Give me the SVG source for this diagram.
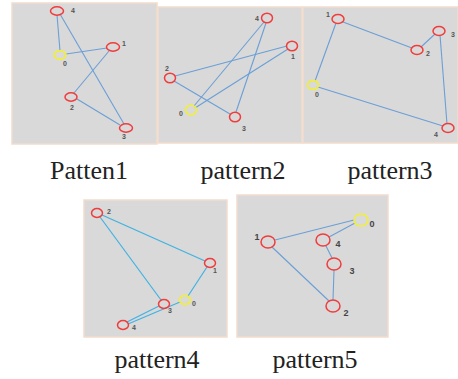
<svg xmlns="http://www.w3.org/2000/svg" width="458" height="379" viewBox="0 0 458 379">
  <style>
    .panel { fill: #d9d9d9; stroke: #f2dccd; stroke-width: 1.5; }
    .edge { stroke: #6b9fd6; stroke-width: 1.1; fill: none; }
    .edge4 { stroke: #3fb2e2; stroke-width: 1.2; fill: none; }
    .node { fill: none; stroke: #f03c3c; stroke-width: 1.5; }
    .start { fill: none; stroke: #f4f02a; stroke-width: 1.5; }
    .lbl { font-family: "Liberation Sans", Arial, sans-serif; font-size: 7px; font-weight: bold; fill: #555; text-anchor: middle; }
    .lbl5 { font-family: "Liberation Sans", Arial, sans-serif; font-size: 9px; font-weight: bold; fill: #444; text-anchor: middle; }
    .cap { font-family: "Liberation Serif", "Times New Roman", serif; font-size: 26px; fill: #222; text-anchor: middle; }
  </style>

  <!-- panel backgrounds -->
  <rect class="panel" x="12" y="3" width="145" height="141"/>
  <rect class="panel" x="158" y="7" width="144" height="136"/>
  <rect class="panel" x="303" y="7" width="155" height="136"/>
  <rect class="panel" x="84" y="200" width="143" height="137"/>
  <rect class="panel" x="237" y="195" width="151" height="142"/>

  <g id="connectors">
    <!-- pattern 1 -->
    <line class="edge" x1="57" y1="15" x2="60" y2="51"/>
    <line class="edge" x1="60" y1="14" x2="124" y2="124"/>
    <line class="edge" x1="66" y1="54" x2="107" y2="48"/>
    <line class="edge" x1="109" y1="51" x2="74" y2="93"/>
    <line class="edge" x1="77" y1="99" x2="120" y2="125"/>
    <!-- pattern 2 -->
    <line class="edge" x1="264" y1="22" x2="194" y2="106"/>
    <line class="edge" x1="266" y1="23" x2="236" y2="112"/>
    <line class="edge" x1="175" y1="76" x2="287" y2="46"/>
    <line class="edge" x1="174" y1="81" x2="230" y2="114"/>
    <line class="edge" x1="195" y1="108" x2="288" y2="49"/>
    <!-- pattern 3 -->
    <line class="edge" x1="336" y1="23" x2="315" y2="81"/>
    <line class="edge" x1="343" y1="22" x2="412" y2="48"/>
    <line class="edge" x1="421" y1="47" x2="435" y2="34"/>
    <line class="edge" x1="440" y1="35" x2="447" y2="124"/>
    <line class="edge" x1="318" y1="87" x2="443" y2="126"/>
    <!-- pattern 4 -->
    <line class="edge4" x1="102" y1="215" x2="205" y2="261"/>
    <line class="edge4" x1="100" y1="217" x2="161" y2="300"/>
    <line class="edge4" x1="207" y1="267" x2="188" y2="296"/>
    <line class="edge4" x1="180" y1="302" x2="128" y2="324"/>
    <line class="edge4" x1="159" y1="306" x2="127" y2="322"/>
    <!-- pattern 5 -->
    <line class="edge" x1="275" y1="240" x2="354" y2="220"/>
    <line class="edge" x1="355" y1="223" x2="329" y2="237"/>
    <line class="edge" x1="326" y1="246" x2="332" y2="258"/>
    <line class="edge" x1="334" y1="270" x2="333" y2="300"/>
    <line class="edge" x1="272" y1="247" x2="329" y2="301"/>
  </g>

  <!-- pattern 1 nodes -->
  <g id="p1-n4"><ellipse class="node" cx="57" cy="11" rx="6.5" ry="4.2"/><text class="lbl" x="73" y="13">4</text></g>
  <g id="p1-n0"><ellipse class="start" cx="60" cy="55" rx="6" ry="4.2"/><text class="lbl" x="65" y="66">0</text></g>
  <g id="p1-n1"><ellipse class="node" cx="113" cy="47" rx="6.5" ry="4.2"/><text class="lbl" x="124" y="46">1</text></g>
  <g id="p1-n2"><ellipse class="node" cx="71" cy="97" rx="6" ry="4.2"/><text class="lbl" x="72" y="110">2</text></g>
  <g id="p1-n3"><ellipse class="node" cx="126" cy="128" rx="6.5" ry="4.2"/><text class="lbl" x="124" y="139">3</text></g>

  <!-- pattern 2 nodes -->
  <g id="p2-n4"><ellipse class="node" cx="267" cy="18" rx="5.5" ry="4.8"/><text class="lbl" x="257" y="21">4</text></g>
  <g id="p2-n1"><ellipse class="node" cx="292" cy="46" rx="5.5" ry="4.8"/><text class="lbl" x="293" y="59">1</text></g>
  <g id="p2-n2"><ellipse class="node" cx="170" cy="78" rx="5.5" ry="4.8"/><text class="lbl" x="167" y="71">2</text></g>
  <g id="p2-n0"><ellipse class="start" cx="191" cy="110" rx="5.5" ry="4.8"/><text class="lbl" x="181" y="116">0</text></g>
  <g id="p2-n3"><ellipse class="node" cx="235" cy="117" rx="5.5" ry="4.8"/><text class="lbl" x="244" y="131">3</text></g>

  <!-- pattern 3 nodes -->
  <g id="p3-n1"><ellipse class="node" cx="338" cy="19" rx="6" ry="4.5"/><text class="lbl" x="328" y="17">1</text></g>
  <g id="p3-n2"><ellipse class="node" cx="417" cy="50" rx="6" ry="4.5"/><text class="lbl" x="428" y="56">2</text></g>
  <g id="p3-n3"><ellipse class="node" cx="439" cy="31" rx="6" ry="4.5"/><text class="lbl" x="453" y="37">3</text></g>
  <g id="p3-n0"><ellipse class="start" cx="313" cy="85" rx="5.5" ry="4.5"/><text class="lbl" x="317" y="97">0</text></g>
  <g id="p3-n4"><ellipse class="node" cx="448" cy="128" rx="6" ry="4.5"/><text class="lbl" x="436" y="137">4</text></g>

  <!-- pattern 4 nodes -->
  <g id="p4-n2"><ellipse class="node" cx="97" cy="213" rx="5.5" ry="4.5"/><text class="lbl" x="109" y="214">2</text></g>
  <g id="p4-n1"><ellipse class="node" cx="210" cy="263" rx="5.5" ry="4.5"/><text class="lbl" x="215" y="273">1</text></g>
  <g id="p4-n0"><ellipse class="start" cx="185" cy="300" rx="5.5" ry="4.5"/><text class="lbl" x="194" y="306">0</text></g>
  <g id="p4-n3"><ellipse class="node" cx="164" cy="304" rx="5.5" ry="4.5"/><text class="lbl" x="170" y="313">3</text></g>
  <g id="p4-n4"><ellipse class="node" cx="123" cy="325" rx="5.5" ry="4.5"/><text class="lbl" x="134" y="330">4</text></g>

  <!-- pattern 5 nodes -->
  <g id="p5-n0"><ellipse class="start" cx="361" cy="220" rx="7" ry="6"/><text class="lbl5" x="372" y="227">0</text></g>
  <g id="p5-n1"><ellipse class="node" cx="268" cy="242" rx="7" ry="6"/><text class="lbl5" x="257" y="240">1</text></g>
  <g id="p5-n4"><ellipse class="node" cx="323" cy="240" rx="7" ry="6"/><text class="lbl5" x="338" y="247">4</text></g>
  <g id="p5-n3"><ellipse class="node" cx="334" cy="264" rx="7" ry="6"/><text class="lbl5" x="352" y="274">3</text></g>
  <g id="p5-n2"><ellipse class="node" cx="333" cy="306" rx="7" ry="6"/><text class="lbl5" x="346" y="316">2</text></g>

  <!-- captions -->
  <text class="cap" x="89" y="179">Patten1</text>
  <text class="cap" x="243" y="179">pattern2</text>
  <text class="cap" x="390" y="179">pattern3</text>
  <text class="cap" x="157" y="368">pattern4</text>
  <text class="cap" x="315" y="368">pattern5</text>
</svg>
